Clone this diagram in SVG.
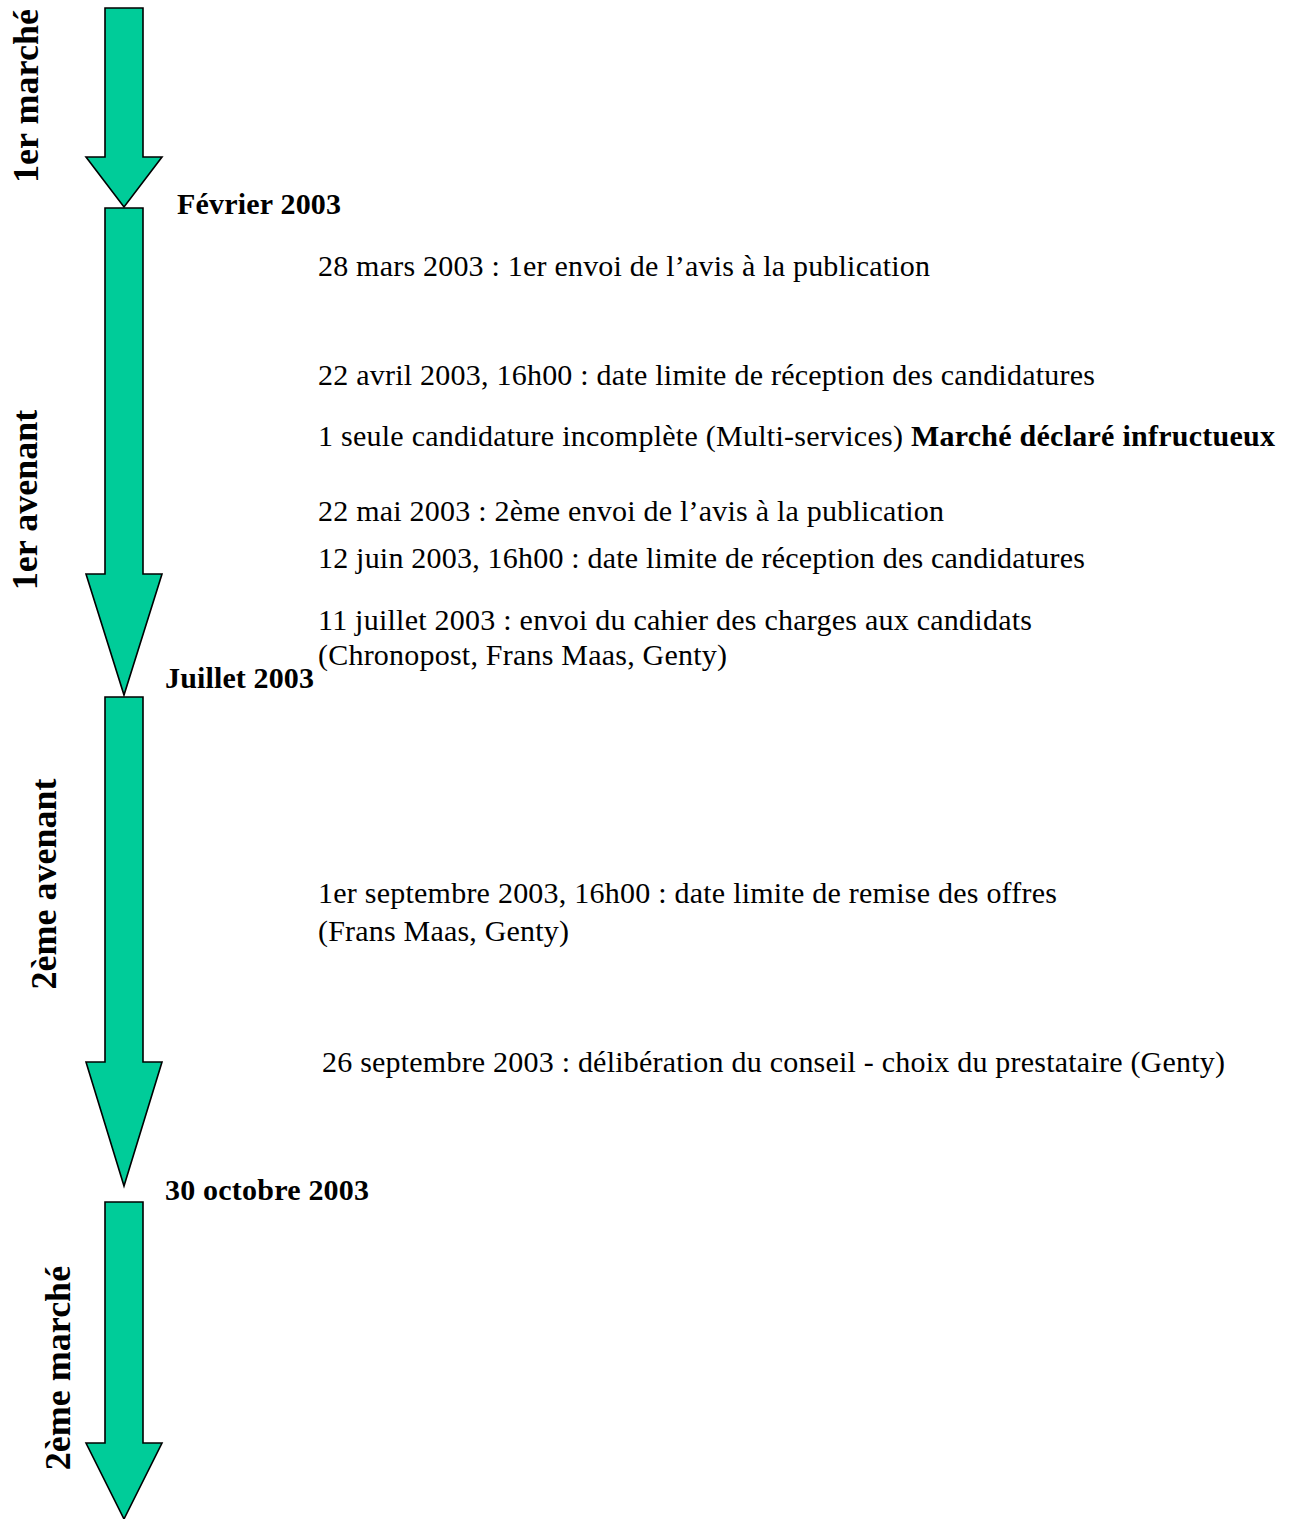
<svg xmlns="http://www.w3.org/2000/svg" width="1295" height="1519" viewBox="0 0 1295 1519">
<style>
.arrow{fill:#00CC99;stroke:#000;stroke-width:1.6;stroke-linejoin:miter}
.t{font-family:"Liberation Serif","Times New Roman",serif;font-size:30px;fill:#000}
.b{font-family:"Liberation Serif","Times New Roman",serif;font-size:30px;font-weight:bold;fill:#000}
.v{font-family:"Liberation Serif","Times New Roman",serif;font-size:36px;font-weight:bold;fill:#000;text-anchor:middle}
</style>
<rect width="1295" height="1519" fill="#fff"/>
<g id="connectors">
<polygon id="arrow1" class="arrow" points="105,8 143,8 143,157 162,157 124,207 86,157 105,157"/>
<polygon id="arrow2" class="arrow" points="105,208 143,208 143,574 162,574 124,695 86,574 105,574"/>
<polygon id="arrow3" class="arrow" points="105,697 143,697 143,1062 162,1062 124,1186 86,1062 105,1062"/>
<polygon id="arrow4" class="arrow" points="105,1202 143,1202 143,1443 162,1443 124,1519 86,1443 105,1443"/>
</g>
<g id="phase-labels">
<text class="v" transform="translate(38,96) rotate(-90)" textLength="174">1er marché</text>
<text class="v" transform="translate(37,500) rotate(-90)">1er avenant</text>
<text class="v" transform="translate(56,884) rotate(-90)">2ème avenant</text>
<text class="v" transform="translate(70,1368) rotate(-90)">2ème marché</text>
</g>
<g id="dates">
<text class="b" x="177" y="214" textLength="164">Février 2003</text>
<text class="b" x="165" y="688" textLength="149">Juillet 2003</text>
<text class="b" x="165" y="1200" textLength="204">30 octobre 2003</text>
</g>
<g id="events">
<text class="t" x="318" y="276" textLength="612">28 mars 2003 :  1er envoi de l’avis à la publication</text>
<text class="t" x="318" y="385" textLength="777">22 avril 2003, 16h00 : date limite de réception des candidatures</text>
<text class="t" x="318" y="446" textLength="957">1 seule candidature incomplète (Multi-services) <tspan class="b">Marché déclaré infructueux</tspan></text>
<text class="t" x="318" y="521" textLength="626">22 mai 2003 : 2ème envoi de l’avis à la publication</text>
<text class="t" x="318" y="568" textLength="767">12 juin 2003, 16h00 : date limite de réception des candidatures</text>
<text class="t" x="318" y="630" textLength="714">11 juillet 2003 : envoi du cahier des charges aux candidats</text>
<text class="t" x="318" y="665" textLength="409">(Chronopost, Frans Maas, Genty)</text>
<text class="t" x="318" y="903" textLength="739">1er septembre 2003, 16h00 : date limite de remise des offres</text>
<text class="t" x="318" y="941" textLength="251">(Frans Maas, Genty)</text>
<text class="t" x="322" y="1072" textLength="903">26 septembre 2003 : délibération du conseil - choix du prestataire (Genty)</text>
</g>
</svg>
